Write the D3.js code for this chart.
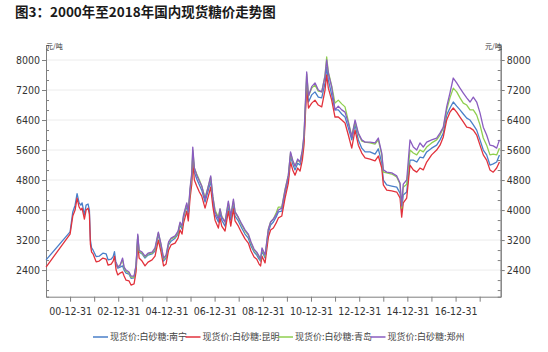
<!DOCTYPE html>
<html>
<head>
<meta charset="utf-8">
<script src="https://cdn.jsdelivr.net/npm/d3@7/dist/d3.min.js"></script>
<style>
  body { margin: 0; background: #fff; }
  svg { display: block; }
  .tick text { font-family: "Liberation Sans Narrow", "Arial Narrow", "DejaVu Sans Condensed", "Liberation Sans", sans-serif; font-size: 10.5px; fill: #333; }
  .axis path, .axis line { stroke: #7f7f7f; }
</style>
</head>
<body>
<svg id="chart" width="548" height="352"></svg>
<script>
const title = "图3：2000年至2018年国内现货糖价走势图";
const unitLabel = "元/吨";
const seriesNames = ["现货价:白砂糖:南宁", "现货价:白砂糖:昆明", "现货价:白砂糖:青岛", "现货价:白砂糖:郑州"];
const seriesColors = ["#4a7fc9", "#e2323c", "#8fcf4f", "#8a5cc0"];
const yTicks = [2400, 3200, 4000, 4800, 5600, 6400, 7200, 8000];

const dates = [
  "2000-01-02","2000-12-31","2001-02-10","2001-03-17","2001-04-16","2001-05-17","2001-06-12","2001-07-01","2001-08-05","2001-08-31",
  "2001-09-30","2001-10-20","2001-11-04","2001-11-22","2001-12-15","2002-01-30","2002-03-17","2002-05-12","2002-07-01","2002-07-31",
  "2002-09-15","2002-10-15","2002-11-04",
  "2002-11-29","2002-12-24","2003-01-28","2003-03-07","2003-03-30","2003-04-29","2003-06-13","2003-07-13","2003-08-28","2003-09-27",
  "2003-10-23","2003-11-12","2003-12-27","2004-02-10","2004-03-27","2004-05-27","2004-07-11","2004-08-30","2004-10-10","2004-11-17",
  "2004-12-25","2005-02-01","2005-03-11","2005-05-11","2005-06-25","2005-07-25","2005-08-24","2005-09-16","2005-11-04","2005-11-27",
  "2005-12-24","2006-01-19","2006-02-03","2006-02-27","2006-04-04","2006-05-14","2006-06-19","2006-08-08","2006-09-27","2006-11-02",
  "2006-12-03","2007-01-07","2007-02-26","2007-03-23","2007-04-18","2007-06-07","2007-07-27","2007-09-02","2007-10-12","2007-11-06",
  "2007-12-26","2008-02-15","2008-04-05","2008-05-25","2008-07-05","2008-08-20","2008-09-30","2008-11-04","2008-11-27","2008-12-19",
  "2009-02-03","2009-03-25","2009-04-28","2009-06-09","2009-07-20","2009-08-24","2009-10-14","2009-12-03","2010-01-22","2010-02-24",
  "2010-03-29","2010-05-03","2010-06-13","2010-07-18","2010-08-22","2010-09-16","2010-10-09","2010-10-27","2010-11-23","2011-01-11",
  "2011-03-02","2011-04-21","2011-06-12","2011-08-01","2011-08-26","2011-09-20","2011-11-10","2011-12-30","2012-02-18","2012-04-10",
  "2012-05-30","2012-07-19","2012-09-09","2012-10-29","2012-12-18","2013-02-08","2013-03-30","2013-06-13","2013-08-28","2013-10-17",
  "2013-12-08","2014-01-01","2014-02-21","2014-05-08","2014-07-23","2014-09-11","2014-10-06","2014-10-30","2014-12-21","2015-02-09",
  "2015-03-31","2015-05-22","2015-07-10","2015-08-29","2015-10-20","2016-01-03","2016-03-19","2016-05-09","2016-06-28","2016-08-18",
  "2016-10-07","2016-11-26","2017-01-17","2017-03-08","2017-04-27","2017-06-18","2017-08-07","2017-09-26","2017-11-16","2018-01-05",
  "2018-02-24","2018-04-16","2018-06-05","2018-07-25","2018-09-15","2018-10-27"
];

// 南宁
const nanning = [
  2670,3420,3950,4130,4440,4190,4130,4190,3870,4130,
  4160,4000,3200,2990,2930,2760,2770,2850,2830,2670,
  2690,2760,2890,
  2560,2450,2480,2510,2400,2320,2290,2180,2190,2490,
  3310,2880,2830,2720,2800,2830,2910,3360,3010,2640,
  2720,3070,3170,3250,3360,3600,3490,3790,4110,3870,
  4480,4850,5470,5010,4830,4670,4530,4210,4530,4770,
  4270,3870,3680,3920,3730,3570,4110,3730,4160,3840,
  3710,3520,3360,3250,3040,2880,2800,2690,2640,2910,
  2720,3410,3600,3680,3810,3950,3970,4450,4850,5440,
  5230,5070,5250,5200,5490,5870,6770,7470,6880,7070,
  7150,7010,6990,7390,7810,7470,7070,6670,6670,6560,
  6480,6190,5870,6270,5870,5650,5550,5550,5490,5630,
  5250,4800,4670,4640,4610,4450,4000,4400,4480,5330,
  5330,5280,5410,5390,5550,5650,5730,5870,6050,6530,
  6720,6880,6770,6670,6560,6450,6400,6270,6130,5870,
  5600,5470,5200,5230,5280,5470
];

// 昆明
const kunming = [
  2480,3360,3840,4000,4320,4080,4000,4050,3760,4000,
  4050,3890,3090,2880,2830,2620,2640,2720,2690,2530,
  2560,2640,2770,
  2400,2270,2320,2350,2240,2130,2110,2000,2030,2350,
  3150,2720,2640,2510,2610,2670,2770,3200,2880,2510,
  2560,2930,3070,3120,3250,3470,3360,3650,3970,3710,
  4320,4690,5280,4800,4640,4480,4370,4050,4370,4610,
  4110,3730,3520,3790,3570,3440,3970,3570,4030,3710,
  3570,3390,3230,3120,2910,2750,2690,2560,2510,2770,
  2590,3280,3470,3520,3650,3790,3840,4320,4720,5280,
  5070,4930,5120,5040,5330,5730,6610,7250,6720,6850,
  6930,6800,6750,7200,7600,7250,6930,6480,6480,6400,
  6320,6000,5650,6130,5730,5520,5390,5360,5310,5440,
  5120,4670,4530,4510,4480,4320,3810,4190,4320,5200,
  5070,5010,5120,5070,5280,5470,5600,5730,5950,6400,
  6610,6720,6610,6480,6350,6210,6190,6130,6000,5730,
  5470,5330,5070,5010,5120,5280
];

// 青岛
const qingdao = [
  null,null,null,null,null,null,null,null,null,null,
  null,null,null,null,null,null,null,null,null,null,
  null,null,null,
  2590,2480,2530,2670,2450,2370,2320,2210,2210,2510,
  3310,2910,2850,2750,2830,2850,2960,3390,3070,2690,
  2770,3120,3230,3280,3410,3650,3550,3840,4160,3950,
  4530,4930,5600,5120,4960,4800,4640,4320,4640,4880,
  4370,4000,3810,4030,3840,3680,4190,3840,4240,3950,
  3790,3600,3440,3330,3120,2930,2850,2750,2670,2960,
  2770,3490,3680,3760,3920,4080,4080,4560,4930,5520,
  5310,5170,5330,5280,5570,5970,6880,7630,7040,7250,
  7330,7170,7150,7600,8080,7680,7310,6850,6930,6830,
  6750,6370,5970,6350,6030,5840,5810,5790,5760,5870,
  5470,5010,4990,4960,4880,4690,4050,4610,4690,5600,
  5520,5470,5600,5550,5680,5790,5870,6000,6190,6670,
  6990,7250,7150,6990,6850,6800,6670,6670,6530,6270,
  5920,5730,5470,5490,5470,5650
];

// 郑州
const zhengzhou = [
  null,null,null,null,null,null,null,null,null,null,
  null,null,null,null,null,null,null,null,null,null,
  null,null,null,
  2610,2480,2530,2720,2480,2400,2350,2240,2240,2530,
  3360,2930,2880,2770,2850,2880,2990,3410,3090,2720,
  2800,3150,3250,3310,3440,3680,3570,3870,4190,3950,
  4590,4990,5680,5120,4930,4770,4640,4290,4640,4910,
  4370,3950,3760,4030,3810,3680,4240,3840,4290,3950,
  3810,3630,3470,3360,3150,2960,2880,2770,2690,2990,
  2800,3490,3680,3760,3870,4000,4050,4530,4930,5550,
  5330,5170,5360,5280,5600,6000,6930,7680,7040,7290,
  7390,7200,7150,7570,8000,7650,7280,6670,6770,6670,
  6610,6320,5950,6400,6050,5870,5810,5810,5790,5920,
  5520,5070,5010,4990,4910,4720,4110,4690,4800,5870,
  5680,5600,5790,5680,5810,5870,5920,6050,6210,6750,
  7120,7520,7390,7250,7120,6990,6880,7010,6880,6590,
  6210,6000,5730,5710,5650,5870
];

const seriesValues = [nanning, kunming, qingdao, zhengzhou];

const svg = d3.select("#chart");
const parseDate = d3.timeParse("%Y-%m-%d");
const dateObjs = dates.map(parseDate);

const plotLeft = 46, plotRight = 500.7, plotTop = 45, plotBottom = 296.7;

const x = d3.scaleTime()
    .domain([new Date(2000, 0, 1), new Date(2018, 10, 15)])
    .range([plotLeft, plotRight]);

const y = d3.scaleLinear()
    .domain([1690, 8400])
    .range([plotBottom, plotTop]);

// title
svg.append("text")
    .attr("x", 15)
    .attr("y", 17)
    .attr("font-family", "'Noto Sans CJK SC', sans-serif")
    .attr("font-weight", "bold")
    .attr("font-size", 13.5)
    .attr("fill", "#1a1a1a")
    .text(title);

// grid lines
svg.append("g")
    .selectAll("line")
    .data(yTicks)
    .join("line")
    .attr("x1", plotLeft)
    .attr("x2", plotRight)
    .attr("y1", d => y(d))
    .attr("y2", d => y(d))
    .attr("stroke", "#ececec")
    .attr("stroke-width", 1);

// minor ticks on both y axes
const minorTicks = d3.range(1866.67, 8300, 800 / 3).filter(v => !yTicks.some(t => Math.abs(t - v) < 1));

svg.append("g")
    .attr("class", "axis")
    .attr("transform", `translate(${plotLeft},0)`)
    .call(d3.axisLeft(y).tickValues(minorTicks).tickSize(-3).tickFormat(""));

svg.append("g")
    .attr("class", "axis")
    .attr("transform", `translate(${plotRight},0)`)
    .call(d3.axisRight(y).tickValues(minorTicks).tickSize(-3).tickFormat(""));

svg.append("g")
    .attr("class", "axis")
    .attr("transform", `translate(${plotLeft},0)`)
    .call(d3.axisLeft(y).tickValues(yTicks).tickSize(4).tickSizeOuter(0).tickPadding(2).tickFormat(d3.format("d")));

svg.append("g")
    .attr("class", "axis")
    .attr("transform", `translate(${plotRight},0)`)
    .call(d3.axisRight(y).tickValues(yTicks).tickSize(4).tickSizeOuter(0).tickPadding(2).tickFormat(d3.format("d")));

// x axis: ticks at every year end, labels every second year
const yearEnds = d3.range(2000, 2018).map(yr => new Date(yr, 11, 31));
svg.append("g")
    .attr("class", "axis")
    .attr("transform", `translate(0,${plotBottom})`)
    .call(d3.axisBottom(x)
        .tickValues(yearEnds)
        .tickSize(5)
        .tickSizeOuter(0)
        .tickPadding(6)
        .tickFormat(d => d.getFullYear() % 2 === 0 ? d3.timeFormat("%y-%m-%d")(d) : ""));

// units
svg.append("text")
    .attr("x", plotLeft)
    .attr("y", 49)
    .attr("font-family", "'Noto Sans CJK SC', sans-serif")
    .attr("font-size", 7)
    .attr("fill", "#333")
    .text(unitLabel);

svg.append("text")
    .attr("x", plotRight + 1)
    .attr("y", 49)
    .attr("text-anchor", "end")
    .attr("font-family", "'Noto Sans CJK SC', sans-serif")
    .attr("font-size", 7)
    .attr("fill", "#333")
    .text(unitLabel);

// lines
const line = d3.line()
    .defined(d => d.v != null)
    .x(d => x(d.date))
    .y(d => y(d.v));

seriesValues.forEach((vals, i) => {
    const pts = vals.map((v, j) => ({ date: dateObjs[j], v: v }));
    svg.append("path")
        .datum(pts)
        .attr("fill", "none")
        .attr("stroke", seriesColors[i])
        .attr("stroke-width", 1.3)
        .attr("stroke-linejoin", "round")
        .attr("d", line);
});

// legend
const legend = svg.append("g").attr("transform", "translate(93,337)");
seriesNames.forEach((name, i) => {
    const g = legend.append("g").attr("transform", `translate(${i * 92.5},0)`);
    g.append("line")
        .attr("x1", 0).attr("x2", 15)
        .attr("y1", 0).attr("y2", 0)
        .attr("stroke", seriesColors[i])
        .attr("stroke-width", 1.5);
    g.append("text")
        .attr("x", 17)
        .attr("y", 3.2)
        .attr("font-family", "'Noto Sans CJK SC', sans-serif")
        .attr("font-size", 9)
        .attr("fill", "#444")
        .text(name);
});
</script>
</body>
</html>
